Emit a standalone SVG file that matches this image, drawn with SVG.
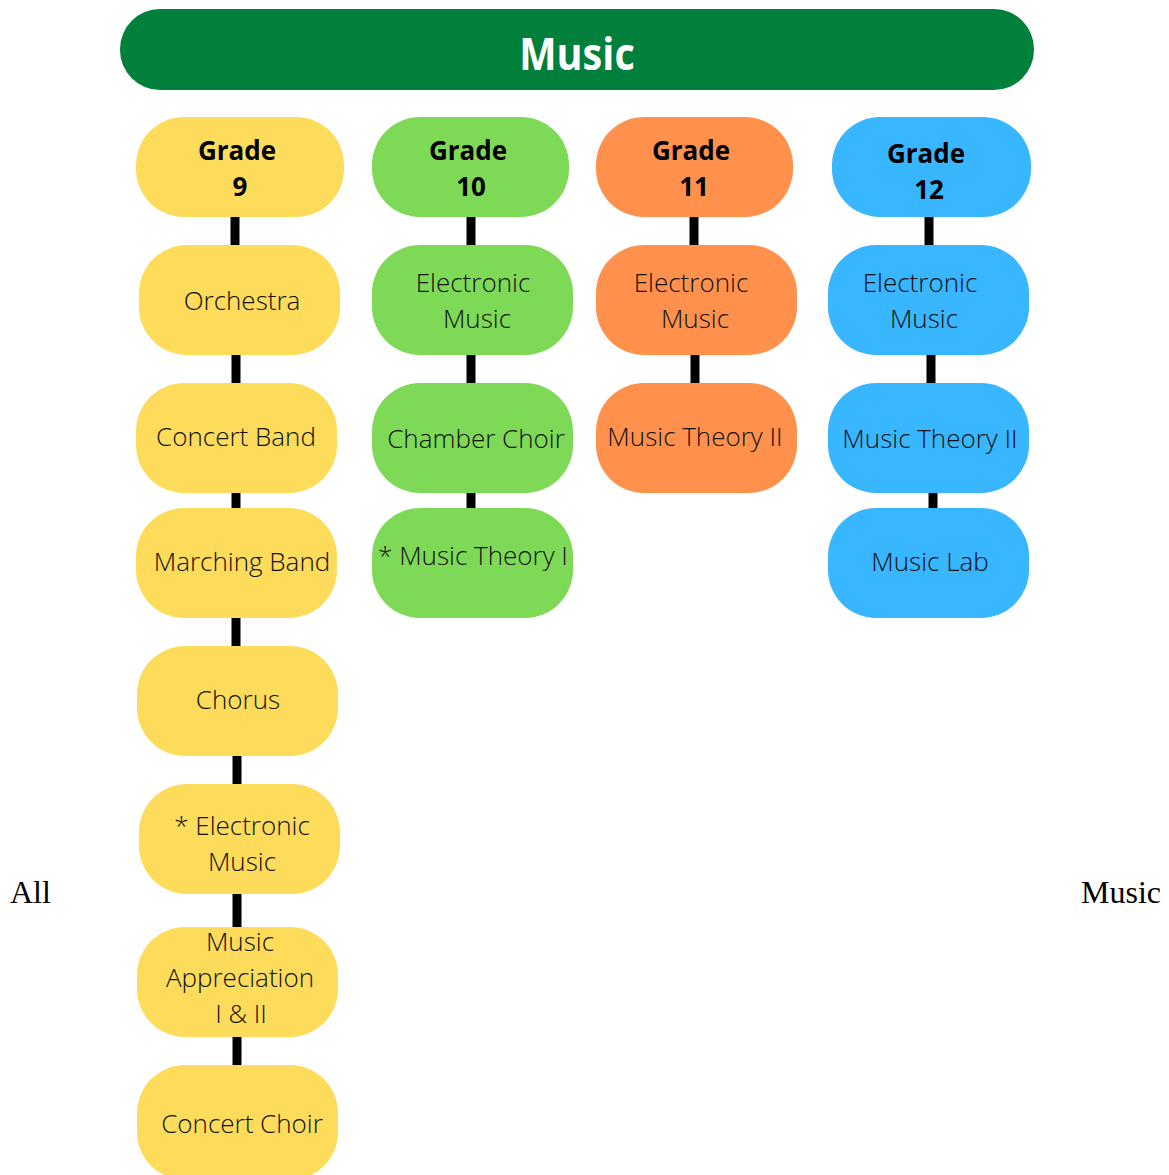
<svg xmlns="http://www.w3.org/2000/svg" width="1169" height="1175" viewBox="0 0 1169 1175">
<style>
.y{fill:#FDDC5C}.g{fill:#7ED957}.o{fill:#FF914D}.b{fill:#38B6FF}
.t{font-family:"Open Sans","Noto Sans",sans-serif;font-weight:300;font-size:26px;fill:#111;text-anchor:middle}
.h{font-family:"Open Sans","Noto Sans",sans-serif;font-weight:700;font-size:26px;fill:#000;text-anchor:middle}
.c{stroke:#000;stroke-width:9}
.s{font-family:"Liberation Serif",serif;font-size:32px;fill:#000}
</style>
<rect width="1169" height="1175" fill="#fff"/>
<g id="title">
<rect x="120" y="9" width="914" height="81" rx="40" fill="#00803A"/>
<text transform="translate(577 70) scale(0.9 1)" font-family="'Open Sans','Noto Sans',sans-serif" font-weight="700" font-size="44" fill="#fff" text-anchor="middle">Music</text>
</g>
<g id="connectors" class="c">
<line x1="235" y1="215" x2="235" y2="247"/>
<line x1="236" y1="353" x2="236" y2="385"/>
<line x1="236" y1="491" x2="236" y2="510"/>
<line x1="236" y1="616" x2="236" y2="648"/>
<line x1="237" y1="754" x2="237" y2="786"/>
<line x1="237" y1="892" x2="237" y2="929"/>
<line x1="237" y1="1035" x2="237" y2="1067"/>
<line x1="471" y1="215" x2="471" y2="247"/>
<line x1="471" y1="353" x2="471" y2="385"/>
<line x1="471" y1="491" x2="471" y2="510"/>
<line x1="694" y1="215" x2="694" y2="247"/>
<line x1="695" y1="353" x2="695" y2="385"/>
<line x1="929" y1="215" x2="929" y2="247"/>
<line x1="931" y1="353" x2="931" y2="385"/>
<line x1="933" y1="491" x2="933" y2="510"/>
</g>
<g id="grade9"><rect class="y" x="136" y="117" width="208" height="100" rx="48"/><text class="h" x="237" y="160">Grade</text><text class="h" x="240" y="196">9</text></g>
<g id="orchestra"><rect class="y" x="139" y="245" width="201" height="110" rx="48"/><text class="t" x="242" y="310">Orchestra</text></g>
<g id="concert-band"><rect class="y" x="136" y="383" width="201" height="110" rx="48"/><text class="t" x="236" y="446">Concert Band</text></g>
<g id="marching-band"><rect class="y" x="136" y="508" width="201" height="110" rx="48"/><text class="t" x="242" y="571">Marching Band</text></g>
<g id="chorus"><rect class="y" x="137" y="646" width="201" height="110" rx="48"/><text class="t" x="238" y="709">Chorus</text></g>
<g id="electronic9"><rect class="y" x="139" y="784" width="201" height="110" rx="48"/><text class="t" x="242" y="835">* Electronic</text><text class="t" x="242" y="871">Music</text></g>
<g id="appreciation"><rect class="y" x="137" y="927" width="201" height="110" rx="48"/><text class="t" x="240" y="951">Music</text><text class="t" x="240" y="987">Appreciation</text><text class="t" x="241" y="1023">I &amp; II</text></g>
<g id="concert-choir"><rect class="y" x="137" y="1065" width="201" height="115" rx="48"/><text class="t" x="242" y="1133">Concert Choir</text></g>
<g id="grade10"><rect class="g" x="372" y="117" width="197" height="100" rx="48"/><text class="h" x="468" y="160">Grade</text><text class="h" x="471" y="196">10</text></g>
<g id="electronic10"><rect class="g" x="372" y="245" width="201" height="110" rx="48"/><text class="t" x="473" y="292">Electronic</text><text class="t" x="477" y="328">Music</text></g>
<g id="chamber-choir"><rect class="g" x="372" y="383" width="201" height="110" rx="48"/><text class="t" x="476" y="448">Chamber Choir</text></g>
<g id="theory1"><rect class="g" x="372" y="508" width="201" height="110" rx="48"/><text class="t" x="473" y="565">* Music Theory I</text></g>
<g id="grade11"><rect class="o" x="596" y="117" width="197" height="100" rx="48"/><text class="h" x="691" y="160">Grade</text><text class="h" x="694" y="196">11</text></g>
<g id="electronic11"><rect class="o" x="596" y="245" width="201" height="110" rx="48"/><text class="t" x="691" y="292">Electronic</text><text class="t" x="695" y="328">Music</text></g>
<g id="theory2-11"><rect class="o" x="596" y="383" width="201" height="110" rx="48"/><text class="t" x="695" y="446">Music Theory II</text></g>
<g id="grade12"><rect class="b" x="832" y="117" width="199" height="100" rx="48"/><text class="h" x="926" y="163">Grade</text><text class="h" x="929" y="199">12</text></g>
<g id="electronic12"><rect class="b" x="828" y="245" width="201" height="110" rx="48"/><text class="t" x="920" y="292">Electronic</text><text class="t" x="924" y="328">Music</text></g>
<g id="theory2-12"><rect class="b" x="828" y="383" width="201" height="110" rx="48"/><text class="t" x="930" y="448">Music Theory II</text></g>
<g id="music-lab"><rect class="b" x="828" y="508" width="201" height="110" rx="48"/><text class="t" x="930" y="571">Music Lab</text></g>
<text class="s" x="10" y="903">All</text>
<text class="s" x="1081" y="903">Music</text>
</svg>
